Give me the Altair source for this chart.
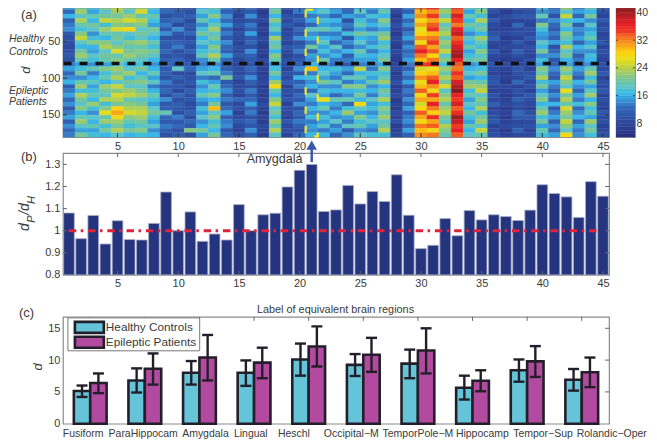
import altair as alt
import pandas as pd

FONT = "Liberation Sans"
INK = "#3a3a3a"
FRAME = "#8a8a8a"

band_rows = 6
heat_columns = [
 [15,12,16,11,13,14,10,9,9,8,9,10,9,13,15,12,14,16,11,13,15,12,14,10,13,15,11,14,12,13],
 [20,22,18,23,19,17,21,24,18,16,20,22,19,15,17,20,14,19,22,17,23,20,18,21,16,19,22,18,15,20],
 [17,15,19,16,20,18,14,17,21,16,15,18,17,14,19,13,16,18,15,17,19,16,22,17,14,18,16,19,15,17],
 [21,18,20,24,17,22,19,16,21,23,18,20,19,15,21,17,19,16,22,20,18,23,17,21,26,19,22,17,20,16],
 [24,22,20,23,21,25,19,20,18,21,25,19,21,18,22,20,23,18,24,21,25,23,20,28,30,27,22,20,23,18],
 [20,18,22,25,20,28,18,17,21,19,20,22,19,16,18,22,17,20,18,22,24,19,21,23,25,21,19,17,20,16],
 [22,25,19,23,21,18,20,18,22,19,21,20,18,17,20,16,19,21,18,20,22,18,20,23,24,22,20,18,21,17],
 [18,16,19,17,15,20,18,16,19,17,20,18,16,14,16,19,15,18,13,16,19,17,15,18,20,17,15,18,14,16],
 [10,12,9,11,13,10,14,9,11,10,12,9,11,12,10,11,9,13,10,12,9,14,10,11,19,12,10,13,11,9],
 [9,11,10,12,8,14,10,9,11,13,9,10,12,9,18,8,11,9,10,8,12,9,11,10,9,13,10,12,9,11],
 [8,9,11,8,10,9,12,8,10,9,11,8,9,10,12,8,9,10,8,11,9,10,8,9,11,8,12,10,21,9],
 [16,18,15,19,14,17,20,16,18,15,17,19,14,13,15,18,13,17,14,16,19,15,13,17,15,18,14,16,20,15],
 [19,17,21,16,19,22,18,20,17,21,18,23,19,14,16,19,12,15,19,17,21,16,20,29,18,21,17,19,16,20],
 [13,11,14,12,15,11,13,10,14,12,11,15,12,10,11,13,20,10,12,14,11,13,10,12,15,11,13,14,10,12],
 [8,9,7,8,10,7,9,8,7,9,8,10,8,7,9,8,10,7,8,9,7,12,8,9,7,8,10,8,7,9],
 [12,10,14,9,13,11,15,10,12,9,14,11,10,9,12,10,14,11,9,13,10,12,15,11,13,9,12,10,14,11],
 [7,6,7,8,6,7,6,8,7,6,7,6,8,6,7,6,7,8,6,7,6,7,8,7,6,7,6,8,7,6],
 [18,20,16,21,17,19,15,22,18,20,16,21,19,15,17,20,16,22,27,19,16,21,24,18,20,17,22,19,23,18],
 [8,7,9,8,10,7,8,9,7,10,8,7,9,8,7,9,8,11,7,9,8,10,7,9,8,7,10,8,9,7],
 [10,13,9,11,8,12,10,14,9,11,13,9,10,11,14,10,16,11,13,9,12,10,14,9,12,10,13,11,9,12],
 [14,16,13,15,12,18,14,16,13,20,12,15,14,16,29,13,17,14,16,12,18,15,13,16,14,17,13,15,14,16],
 [16,18,14,17,15,19,13,16,18,15,17,14,19,14,16,18,15,20,14,17,15,26,16,19,14,17,15,18,13,16],
 [13,15,12,16,14,17,13,15,12,18,14,16,13,12,17,15,13,18,14,16,12,19,15,13,16,14,18,13,15,12],
 [10,12,15,9,13,11,17,10,14,12,16,11,13,10,15,12,18,13,21,16,14,19,12,17,22,15,13,18,11,14],
 [15,18,14,17,19,15,20,16,18,14,19,17,15,13,24,16,19,15,21,17,20,16,27,18,15,21,17,19,14,18],
 [15,13,17,14,16,13,18,15,14,17,13,16,15,14,13,17,15,19,14,16,13,18,15,17,14,16,18,15,13,17],
 [17,19,16,21,18,15,20,22,17,19,16,18,20,15,21,17,19,22,16,20,18,23,17,21,19,22,18,20,23,17],
 [7,8,6,7,9,7,6,8,7,6,8,7,6,7,8,6,7,9,6,7,8,6,7,6,8,7,9,6,7,8],
 [13,11,15,12,14,10,13,15,11,14,12,13,15,13,11,14,12,15,10,13,11,14,12,15,11,13,14,12,15,11],
 [33,29,31,27,30,26,28,31,27,33,36,32,29,34,25,28,31,26,29,33,27,30,25,28,33,30,27,32,29,31],
 [36,31,34,30,33,35,29,32,34,30,33,28,32,35,26,29,33,36,31,27,34,30,36,32,28,35,30,33,27,32],
 [20,22,19,24,18,21,23,19,22,20,24,18,21,17,22,19,23,20,25,18,21,23,19,22,24,20,18,23,21,19],
 [35,33,37,34,32,36,38,33,35,37,39,40,36,33,32,35,33,37,39,41,36,34,37,33,35,40,38,34,36,33],
 [18,15,19,16,20,17,14,18,16,19,15,17,19,14,16,18,15,20,22,17,19,15,18,16,20,17,15,19,16,18],
 [19,21,17,23,18,20,16,22,19,17,21,18,20,15,17,20,16,19,22,24,18,21,19,23,17,20,22,18,24,19],
 [8,9,7,10,8,7,9,11,8,7,10,8,7,9,8,7,9,10,8,7,9,8,11,7,8,9,10,7,8,9],
 [7,6,8,7,6,7,8,6,7,8,6,7,6,8,7,6,7,6,8,7,6,7,8,6,7,6,7,8,6,7],
 [9,8,10,7,12,8,9,7,10,8,11,9,7,8,10,9,8,12,7,9,8,11,9,8,12,10,8,9,11,8],
 [8,9,10,8,7,9,8,10,7,9,8,7,9,8,7,9,10,8,9,7,10,9,8,7,9,10,8,9,7,8],
 [16,14,19,13,21,17,15,14,18,16,20,14,17,15,21,19,23,17,20,15,18,21,16,19,22,17,20,15,19,17],
 [11,13,9,14,12,10,13,11,15,9,12,14,10,11,14,12,10,15,13,11,14,12,16,10,13,15,11,14,12,15],
 [22,18,24,17,20,16,21,19,17,23,18,20,16,15,22,19,24,21,18,26,20,23,19,25,22,20,24,21,18,27],
 [13,15,12,16,11,14,13,15,12,16,14,11,13,12,15,13,11,16,14,12,15,13,17,12,14,16,12,15,13,14],
 [19,16,20,14,18,15,17,19,15,18,14,17,16,14,19,22,17,20,15,18,22,16,21,17,19,15,22,18,20,17],
 [8,9,7,10,8,9,7,8,10,7,9,8,7,9,8,10,7,9,8,10,7,9,8,7,10,8,9,7,8,9],
]

ratio_values = [1.08,0.964,1.069,0.94,1.045,0.96,0.958,1.033,1.175,1.0,1.085,0.952,0.985,0.958,1.118,
                1.0,1.072,1.079,1.198,1.273,1.30,1.087,1.094,1.205,1.121,1.177,1.132,1.253,1.07,0.919,
                0.934,1.055,0.977,1.091,1.049,1.072,1.064,1.046,1.093,1.208,1.168,1.153,1.06,1.222,1.156]

regions = ["Fusiform","ParaHippocam","Amygdala","Lingual","Heschl",
           "Occipital\u2212M","TemporPole\u2212M","Hippocamp","Tempor\u2212Sup","Rolandic\u2212Oper"]
hc_mean = [5.15,6.8,8.0,8.0,10.1,9.25,9.45,5.65,8.4,6.9]
hc_low  = [4.2,4.9,6.15,5.95,7.55,7.5,7.15,3.8,6.6,5.2]
hc_high = [6.0,8.7,9.85,9.95,12.6,10.95,11.65,7.55,10.1,8.6]
ep_mean = [6.4,8.65,10.4,9.6,12.15,10.85,11.5,6.75,9.8,8.1]
ep_low  = [4.8,6.15,6.8,7.15,9.0,8.15,7.9,5.1,7.35,5.75]
ep_high = [7.9,11.05,13.95,11.95,15.3,13.5,15.0,8.4,12.2,10.4]
region_label_centres = [0.87,1.97,3.11,3.94,4.73,5.78,7.0,8.18,9.29,10.55]

col_ticks = [5,10,15,20,25,30,35,40,45]
row_ticks = [50,100,150]
ratio_ticks = [0.8,0.9,1.0,1.1,1.2,1.3]
d_ticks = [0,5,10,15]
cb_ticks = [8,16,24,32,40]
cb_levels = [4,5,6,7,8,9,10,11,12,13,14,15,16,17,18,19,20,21,22,23,24,25,26,27,28,29,30,31,32,33,34,35,36,37,38,39,40,41]

color_domain = [4,8,12,14,16,18,20,22,24,26,28,30,32,34,36,38,40,42]
color_range = ["#28307f","#2d4a9f","#3368b8","#3a8fd4","#3ab6e8","#5fc4c8","#77c59b","#9ecb6c","#c4d43c",
               "#e8de1c","#fbd30f","#f9a51a","#f47a20","#ee3a24","#e71f26","#c51f26","#9c1c20","#7a1b1b"]
heat_color = alt.Scale(domain=color_domain, range=color_range)

W, HA, HB, HC = 547, 129, 122, 107

axis_style = dict(labelFont=FONT, labelFontSize=11, labelColor=INK, ticks=False, domain=False,
                  grid=False, labelPadding=3, title=None)
ax_cols = alt.Axis(values=col_ticks, format="d", **axis_style)
ax_rows = alt.Axis(values=row_ticks, format="d", **axis_style)
ax_ratio = alt.Axis(values=ratio_ticks, format="~g", **axis_style)
ax_d = alt.Axis(values=d_ticks, format="d", **axis_style)
ax_cb = alt.Axis(values=cb_ticks, format="d", orient="right", labelFont=FONT, labelFontSize=10.5,
                 labelColor=INK, ticks=False, domain=False, grid=False, labelPadding=1, title=None)


def txt(s, x, y, size=11, style="normal", angle=0, align="left", color=INK):
    return alt.Chart(pd.DataFrame({"t": [s]})).mark_text(
        font=FONT, fontSize=size, fontStyle=style, angle=angle, align=align,
        baseline="middle", color=color).encode(text="t:N", x=alt.value(x), y=alt.value(y))


def xticks(ticks, scale, ax, H, color, top=True, bottom=True, L=4):
    d = pd.DataFrame({"t": ticks})
    out = []
    if bottom:
        out.append(alt.Chart(d).mark_rule(color=color, strokeWidth=1).encode(
            x=alt.X("t:Q", scale=scale, axis=ax), y=alt.value(H), y2=alt.value(H - L)))
    if top:
        out.append(alt.Chart(d).mark_rule(color=color, strokeWidth=1).encode(
            x=alt.X("t:Q", scale=scale, axis=ax), y=alt.value(0), y2=alt.value(L)))
    return out


def yticks(ticks, scale, ax, Wd, color, left=True, right=True, L=4):
    d = pd.DataFrame({"t": ticks})
    out = []
    if left:
        out.append(alt.Chart(d).mark_rule(color=color, strokeWidth=1).encode(
            y=alt.Y("t:Q", scale=scale, axis=ax), x=alt.value(0), x2=alt.value(L)))
    if right:
        out.append(alt.Chart(d).mark_rule(color=color, strokeWidth=1).encode(
            y=alt.Y("t:Q", scale=scale, axis=ax), x=alt.value(Wd), x2=alt.value(Wd - L)))
    return out


# ---------- panel (a)
xs45 = alt.Scale(domain=[0.5, 45.5], nice=False, zero=False)
rows_scale = alt.Scale(domain=[4.6, 180.5], reverse=True, nice=False, zero=False)
heat_rows = []
for c, column in enumerate(heat_columns, start=1):
    for b, v in enumerate(column):
        heat_rows.append({"x0": c - 0.5, "x1": c + 0.5,
                          "y0": b * band_rows + 0.5, "y1": (b + 1) * band_rows + 0.5, "v": v})
heat_df = pd.DataFrame(heat_rows)

heat = alt.Chart(heat_df).mark_rect(clip=True, strokeWidth=0.4).encode(
    x=alt.X("x0:Q", scale=xs45, axis=ax_cols),
    x2="x1:Q",
    y=alt.Y("y0:Q", scale=rows_scale, axis=ax_rows),
    y2="y1:Q",
    color=alt.Color("v:Q", scale=heat_color, legend=None),
    stroke=alt.Stroke("v:Q", scale=heat_color, legend=None),
)
sep = alt.Chart(pd.DataFrame({"r": [80], "a": [0.55], "b": [45.5]})).mark_rule(
    color="#111111", strokeWidth=3.5, strokeDash=[8, 8]).encode(
    y=alt.Y("r:Q", scale=rows_scale, axis=ax_rows),
    x=alt.X("a:Q", scale=xs45, axis=ax_cols), x2="b:Q")
amyg = alt.Chart(pd.DataFrame({"a": [20.5], "b": [21.5], "t": [6.5], "u": [179.5]})).mark_rect(
    fillOpacity=0, stroke="#f4e62a", strokeWidth=2.2, strokeDash=[7.5, 11.8]).encode(
    x=alt.X("a:Q", scale=xs45, axis=ax_cols), x2="b:Q",
    y=alt.Y("t:Q", scale=rows_scale, axis=ax_rows), y2="u:Q")

panel_a = alt.layer(
    heat, sep, amyg,
    *xticks(col_ticks, xs45, ax_cols, HA, "#333333"),
    *yticks(row_ticks, rows_scale, ax_rows, W, "#333333"),
    txt("(a)", -42, 7, 13),
    txt("Healthy", -54, 31, 10.5, "italic"),
    txt("Controls", -54, 44, 10.5, "italic"),
    txt("d", -37, 62, 13, "italic", 270, "center"),
    txt("Epileptic", -54, 83, 10.5, "italic"),
    txt("Patients", -54, 94, 10.5, "italic"),
).properties(width=W, height=HA)

# ---------- colour bar
cb_scale = alt.Scale(domain=[4, 41.2], nice=False, zero=False)
cb_df = pd.DataFrame({"a": cb_levels, "b": [v + 1 for v in cb_levels]})
colorbar = alt.layer(
    alt.Chart(cb_df).mark_rect(strokeWidth=0.4, clip=True).encode(
        x=alt.value(0), x2=alt.value(19),
        y=alt.Y("a:Q", scale=cb_scale, axis=ax_cb),
        y2="b:Q",
        color=alt.Color("a:Q", scale=heat_color, legend=None),
        stroke=alt.Stroke("a:Q", scale=heat_color, legend=None)),
    *yticks(cb_ticks, cb_scale, ax_cb, 19, "#444444", L=2),
).properties(width=19, height=HA)

# ---------- panel (b)
ys_b = alt.Scale(domain=[0.8, 1.351], nice=False, zero=False)
bar_df = pd.DataFrame({"r": ratio_values, "base": [0.8] * 45,
                       "a": [i + 0.56 for i in range(45)], "b": [i + 1.44 for i in range(45)]})
bars = alt.Chart(bar_df).mark_rect(color="#25347f", stroke="#a9aec4", strokeWidth=0.8).encode(
    x=alt.X("a:Q", scale=xs45, axis=ax_cols),
    x2="b:Q",
    y=alt.Y("r:Q", scale=ys_b, axis=ax_ratio),
    y2="base:Q")
unity = alt.Chart(pd.DataFrame({"u": [1.0], "a": [0.98], "b": [44.6]})).mark_rule(
    color="#e0233a", strokeWidth=3, strokeDash=[7.5, 4.5, 2.5, 4.8]).encode(
    y=alt.Y("u:Q", scale=ys_b, axis=ax_ratio),
    x=alt.X("a:Q", scale=xs45, axis=ax_cols), x2="b:Q")
arrow_df = pd.DataFrame({"c": [21]})
shaft = alt.Chart(arrow_df).mark_rule(color="#3a56a8", strokeWidth=2.5).encode(
    x=alt.X("c:Q", scale=xs45, axis=ax_cols), y=alt.value(-6), y2=alt.value(9))
head = alt.Chart(arrow_df).mark_point(shape="triangle-up", filled=True, opacity=1,
                                      color="#3a56a8", size=110).encode(
    x=alt.X("c:Q", scale=xs45, axis=ax_cols), y=alt.value(-8))

panel_b = alt.layer(
    bars, unity,
    *xticks(col_ticks, xs45, ax_cols, HB, "#666666"),
    *yticks(ratio_ticks[1:], ys_b, ax_ratio, W, "#666666"),
    shaft, head,
    txt("Amygdala", 184, 6, 12.6),
    txt("(b)", -42, 4, 13),
    txt("d", -38, 74, 14, "italic", 270, "center"),
    txt("P", -31, 66, 11, "italic", 270, "center"),
    txt("/d", -38, 56, 14, "italic", 270, "center"),
    txt("H", -31, 47, 11, "italic", 270, "center"),
).properties(width=W, height=HB)

# ---------- panel (c)
xs10 = alt.Scale(domain=[0.5, 10.5], nice=False, zero=False)
ys_c = alt.Scale(domain=[0, 16.8], nice=False, zero=False)
group_rows = []
for i in range(10):
    group_rows.append({"a": i + 0.7, "b": i + 1.0, "m": i + 0.85, "mean": hc_mean[i], "lo": hc_low[i],
                       "hi": hc_high[i], "g": "Healthy Controls", "zero": 0})
    group_rows.append({"a": i + 1.0, "b": i + 1.3, "m": i + 1.15, "mean": ep_mean[i], "lo": ep_low[i],
                       "hi": ep_high[i], "g": "Epileptic Patients", "zero": 0})
group_df = pd.DataFrame(group_rows)
group_color = alt.Scale(domain=["Healthy Controls", "Epileptic Patients"], range=["#65c4d8", "#b24b9f"])
DARK = "#231f2a"
gbars = alt.Chart(group_df).mark_rect(stroke=DARK, strokeWidth=2.6).encode(
    x=alt.X("a:Q", scale=xs10, axis=None), x2="b:Q",
    y=alt.Y("mean:Q", scale=ys_c, axis=ax_d),
    y2="zero:Q",
    color=alt.Color("g:N", scale=group_color, legend=None))
stems = alt.Chart(group_df).mark_rule(color=DARK, strokeWidth=2.4).encode(
    x=alt.X("m:Q", scale=xs10, axis=None),
    y=alt.Y("lo:Q", scale=ys_c, axis=ax_d), y2="hi:Q")
cap_lo = alt.Chart(group_df).mark_tick(color=DARK, thickness=2.4, size=11, orient="horizontal", opacity=1).encode(
    x=alt.X("m:Q", scale=xs10, axis=None), y=alt.Y("lo:Q", scale=ys_c, axis=ax_d))
cap_hi = alt.Chart(group_df).mark_tick(color=DARK, thickness=2.4, size=11, orient="horizontal", opacity=1).encode(
    x=alt.X("m:Q", scale=xs10, axis=None), y=alt.Y("hi:Q", scale=ys_c, axis=ax_d))
region_df = pd.DataFrame({"name": regions, "pos": region_label_centres})
region_text = alt.Chart(region_df).mark_text(font=FONT, fontSize=10.5, color=INK, baseline="middle").encode(
    x=alt.X("pos:Q", scale=xs10, axis=None), y=alt.value(HC + 10), text="name:N")
legend_box = alt.Chart(pd.DataFrame({"k": [1]})).mark_rect(
    fill="white", stroke="#777777", strokeWidth=1).encode(
    x=alt.value(5), x2=alt.value(137), y=alt.value(1), y2=alt.value(34))
swatch_hc = alt.Chart(pd.DataFrame({"k": [1]})).mark_rect(
    fill="#65c4d8", stroke=DARK, strokeWidth=2.6).encode(
    x=alt.value(12), x2=alt.value(41), y=alt.value(5), y2=alt.value(16))
swatch_ep = alt.Chart(pd.DataFrame({"k": [1]})).mark_rect(
    fill="#b24b9f", stroke=DARK, strokeWidth=2.6).encode(
    x=alt.value(12), x2=alt.value(41), y=alt.value(20), y2=alt.value(31))

panel_c = alt.layer(
    gbars, stems, cap_lo, cap_hi, region_text,
    *xticks([1,2,3,4,5,6,7,8,9,10], xs10, None, HC, "#666666", bottom=False),
    *yticks(d_ticks[1:], ys_c, ax_d, W, "#666666", left=False),
    legend_box, swatch_hc, swatch_ep,
    txt("Healthy Controls", 43, 10.5, 11.8),
    txt("Epileptic Patients", 43, 25.5, 11.8),
    txt("(c)", -44, -4, 13),
    txt("d", -25, 50, 13, "italic", 270, "center"),
    txt("Label of equivalent brain regions", 273, -7, 10.9, align="center"),
).properties(width=W, height=HC)


def empty(w, h):
    return alt.Chart(pd.DataFrame({"k": [0]})).mark_point(opacity=0).encode(
        x=alt.value(0), y=alt.value(0)).properties(
        width=w, height=h, view=alt.ViewBackground(stroke="transparent"))


chart = alt.concat(
    panel_a, colorbar,
    panel_b, empty(19, 1),
    empty(W, 10), empty(19, 1),
    panel_c, empty(19, 1),
    columns=2, spacing={"row": 16, "column": 7}, bounds="flush",
).resolve_scale(
    color="independent", stroke="independent", x="independent", y="independent"
).configure_view(stroke=FRAME, strokeWidth=1.2).properties(
    padding={"top": -2, "left": 0, "right": 0, "bottom": 0}, background="white")

chart.save("out.html", embed_options={"renderer": "svg", "actions": False})
